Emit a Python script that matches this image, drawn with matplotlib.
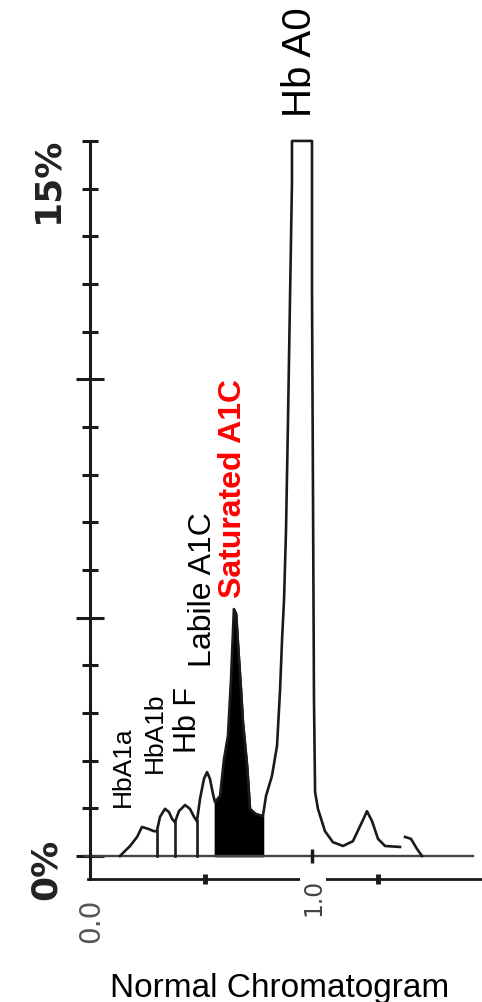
import matplotlib
matplotlib.use('Agg')
import matplotlib.pyplot as plt
import numpy as np

W, H = 482, 1003
INK = '#1a1a1a'

# chromatogram trace (retention position, % of total)
trace_t = [0.127, 0.173, 0.205, 0.227, 0.255, 0.282, 0.295, 0.309, 0.332, 0.350,
           0.364, 0.377, 0.395, 0.423, 0.445, 0.464, 0.477, 0.491, 0.509, 0.523,
           0.536, 0.550, 0.559, 0.582, 0.600, 0.618, 0.632, 0.645, 0.655, 0.664,
           0.677, 0.686, 0.705, 0.718, 0.745, 0.777, 0.791, 0.818, 0.841, 0.855,
           0.864, 0.873, 0.882, 0.891, 0.900, 0.909, 0.909, 1.000, 1.000, 1.005,
           1.009, 1.014, 1.027, 1.059, 1.095, 1.141, 1.186, 1.227, 1.250, 1.273,
           1.300, 1.332, 1.400]
trace_pct = [0.00, 0.21, 0.40, 0.61, 0.57, 0.52, 0.52, 0.82, 0.99, 0.92,
             0.78, 0.71, 0.94, 1.07, 0.99, 0.82, 0.73, 1.20, 1.62, 1.76,
             1.62, 1.30, 1.13, 1.26, 2.03, 2.52, 3.71, 5.18, 5.08, 4.41,
             3.50, 2.81, 1.89, 0.99, 0.88, 0.84, 1.26, 1.68, 2.31, 3.50,
             4.55, 5.39, 6.86, 9.17, 11.68, 14.14, 15.00, 15.00, 11.83, 7.13,
             3.29, 1.34, 0.99, 0.52, 0.29, 0.21, 0.31, 0.71, 0.94, 0.73,
             0.36, 0.21, 0.19]
# small late peak (separate pen stroke)
tail_t = [1.423, 1.450, 1.477, 1.500]
tail_pct = [0.40, 0.36, 0.15, 0.00]

# integrator cut marks and the shaded A1C window
cuts = [0.295, 0.377, 0.477]
a1c_window = (0.559, 0.777)

y_major = [0, 5, 10]
y_minor = [1, 2, 3, 4, 6, 7, 8, 9, 11, 12, 13, 14, 15]
x_marks = [0.514, 1.30]

peak_labels = ['HbA1a', 'HbA1b', 'Hb F', 'Labile A1C', 'Saturated A1C', 'Hb A0']

# pixel -> data mapping used to lay the axes over the whole figure
PX_X0, PX_PER_T = 92, 220.0
PX_Y0, PX_PER_PCT = 857, 47.67


def dx(px):
    return (px - PX_X0) / PX_PER_T


def dy(py):
    return (PX_Y0 - py) / PX_PER_PCT


fig = plt.figure(figsize=(W / 100, H / 100), dpi=100)
ax = fig.add_axes([0, 0, 1, 1])
ax.set_xlim(dx(0), dx(W))
ax.set_ylim(dy(H), dy(0))

for s in ['top', 'right']:
    ax.spines[s].set_visible(False)
ax.spines['left'].set_position(('data', dx(90)))
ax.spines['left'].set_bounds(dy(880), 15)
ax.spines['left'].set_linewidth(2.2)
ax.spines['left'].set_color(INK)
ax.spines['bottom'].set_position(('data', dy(880)))
ax.spines['bottom'].set_bounds(dx(88), dx(W))
ax.spines['bottom'].set_linewidth(2.0)
ax.spines['bottom'].set_color(INK)

ax.set_yticks(y_major)
ax.set_yticks(y_minor, minor=True)
ax.tick_params(axis='y', which='major', direction='inout', length=20, width=2.2,
               color=INK, labelleft=False)
ax.tick_params(axis='y', which='minor', direction='inout', length=12, width=2.2,
               color=INK, labelleft=False)
ax.set_xticks(x_marks)
ax.tick_params(axis='x', which='major', direction='inout', length=7, width=3.5,
               color=INK, labelbottom=False)

# baseline (0 %) with tick at 1.0
ax.plot([dx(85), dx(473)], [0, 0], color='#444444', lw=1.7)
ax.plot([1.0], [0], marker='|', markersize=10, mew=2.5, color=INK)

# trace
ax.plot(trace_t, trace_pct, color=INK, lw=1.9, solid_joinstyle='round')
ax.plot(tail_t, tail_pct, color=INK, lw=1.9)

t = np.array(trace_t)
p = np.array(trace_pct)
for c in cuts:
    ax.plot([c, c], [0, np.interp(c, t, p)], color=INK, lw=1.9)

m = (t >= a1c_window[0]) & (t <= a1c_window[1])
ax.fill_between(t[m], 0, p[m], color='black', lw=1.2, edgecolor='black')

# axis annotations (scan style)
ax.text(dx(47), dy(180), '15%', rotation=90, ha='center', va='center',
        fontsize=26, fontweight='bold', color='#222222')
ax.text(dx(46), dy(869), '0%', rotation=90, ha='center', va='center',
        fontsize=26, fontweight='bold', color='#222222')
ax.text(dx(91), dy(921), '0.0', rotation=90, ha='center', va='center',
        fontsize=20, color='#555555')
ax.text(dx(313), dy(897), '1.0', rotation=90, ha='center', va='center',
        fontsize=17, color='#444444',
        bbox=dict(facecolor='white', edgecolor='none', pad=0.5))

# peak labels
lab_font = ['Liberation Sans', 'DejaVu Sans']
lab_pos = [(123, 767, 19), (155, 733, 19), (188, 720, 22), (203, 590, 23),
           (233, 489, 23), (300, 62, 29)]
for name, (px, py, fs) in zip(peak_labels, lab_pos):
    sat = name.startswith('Saturated')
    ax.text(dx(px), dy(py), name, rotation=90, ha='center', va='center',
            fontsize=fs, family=lab_font,
            color='#ff0000' if sat else 'black',
            fontweight='bold' if sat else 'normal')

ax.text(dx(280), dy(989), 'Normal Chromatogram', ha='center', va='center',
        fontsize=24, family=lab_font, color='black')

fig.savefig('out.png', dpi=100)
